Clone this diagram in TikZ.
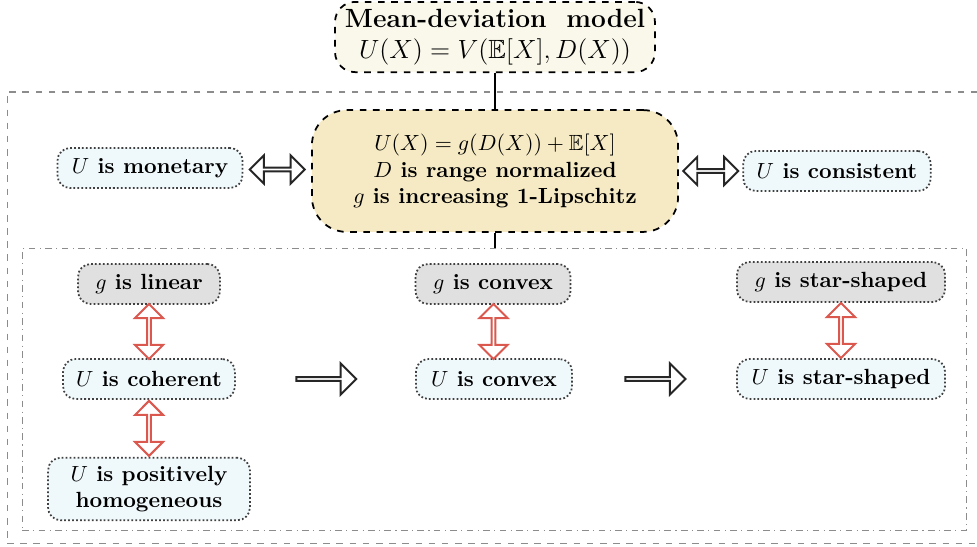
\documentclass[tikz,border=0pt]{standalone}
\usepackage{amssymb}
\usetikzlibrary{shapes.arrows,calc}
\definecolor{topfill}{RGB}{250,248,235}
\definecolor{corefill}{RGB}{245,234,196}
\definecolor{ufill}{RGB}{239,248,251}
\definecolor{gfill}{RGB}{224,224,224}
\definecolor{eqred}{RGB}{218,88,78}
\tikzset{
  model/.style={draw, dashed, line width=0.8pt, align=center},
  prop/.style={draw=black!75, densely dotted, line width=0.8pt, rounded corners=0.2cm,
    fill=ufill, minimum height=0.64cm, font=\bfseries, align=center},
  gprop/.style={prop, fill=gfill},
  frame/.style={draw=black!45, line width=0.5pt},
  equiv/.style={double arrow, draw=black!85, fill=white, line width=0.9pt, inner sep=0pt,
    minimum height=0.88cm, minimum width=0.45cm, double arrow head extend=0.1cm},
  redequiv/.style={equiv, draw=eqred, shape border rotate=90},
  implies/.style={single arrow, draw=black!85, fill=white, line width=0.9pt, inner sep=0pt,
    minimum height=0.96cm, minimum width=0.5cm, single arrow head extend=0.12cm}
}
\begin{document}
\begin{tikzpicture}
      [x=0.016cm, y=-0.016cm]
      \useasboundingbox (0, 0) rectangle (977, 546);
      \node[frame, dashed, minimum width=15.65cm, minimum height=7.22cm](outer) at (496, 317.5) {};
      \node[frame, dash dot, minimum width=15.12cm, minimum height=4.5cm](inner) at (494.5, 389.5) {};
      \node[model, fill=topfill, rounded corners=0.32cm, minimum width=5.12cm, minimum height=1.12cm,
        font=\large\bfseries](top) at (495, 37) {Mean-deviation\ \ model\\$U(X)=V(\mathbb{E}[X],D(X))$};
      \node[model, fill=corefill, rounded corners=0.56cm, minimum width=5.86cm, minimum height=1.95cm,
        font=\bfseries](core) at (495, 171) {$U(X)=g(D(X))+\mathbb{E}[X]$\\$D$ is range normalized\\$g$ is increasing 1-Lipschitz};
      \node[prop, minimum width=2.96cm](mon) at (150, 168) {$U$ is monetary};
      \node[prop, minimum width=3.0cm](cons) at (837, 171) {$U$ is consistent};
      \node[gprop, minimum width=2.27cm](glin) at (149, 284) {$g$ is linear};
      \node[prop, minimum width=2.75cm](ucoh) at (149, 379) {$U$ is coherent};
      \node[prop, minimum width=3.23cm, minimum height=1.0cm](uph) at (149, 489) {$U$ is positively\\homogeneous};
      \node[gprop, minimum width=2.48cm](gcvx) at (493, 284) {$g$ is convex};
      \node[prop, minimum width=2.5cm](ucvx) at (494, 379) {$U$ is convex};
      \node[gprop, minimum width=3.33cm](gstar) at (841, 282) {$g$ is star-shaped};
      \node[prop, minimum width=3.33cm](ustar) at (841, 379) {$U$ is star-shaped};
      \draw[line width=0.9pt](top) -- (core);
      \draw[line width=0.9pt](core) -- (inner.north -| core);
      \node[equiv] at ($(mon.east)!0.5!(core.west)$) {};
      \node[equiv] at ($(core.east)!0.5!(cons.west)$) {};
      \node[redequiv] at ($(glin.south)!0.5!(ucoh.north)$) {};
      \node[redequiv] at ($(ucoh.south)!0.5!(uph.north)$) {};
      \node[redequiv] at ($(gcvx.south)!0.5!(ucvx.north)$) {};
      \node[redequiv] at ($(gstar.south)!0.5!(ustar.north)$) {};
      \node[implies] at ($(ucoh.east)!0.5!(ucvx.west)$) {};
      \node[implies] at ($(ucvx.east)!0.5!(ustar.west)$) {};
  \end{tikzpicture}
\end{document}
